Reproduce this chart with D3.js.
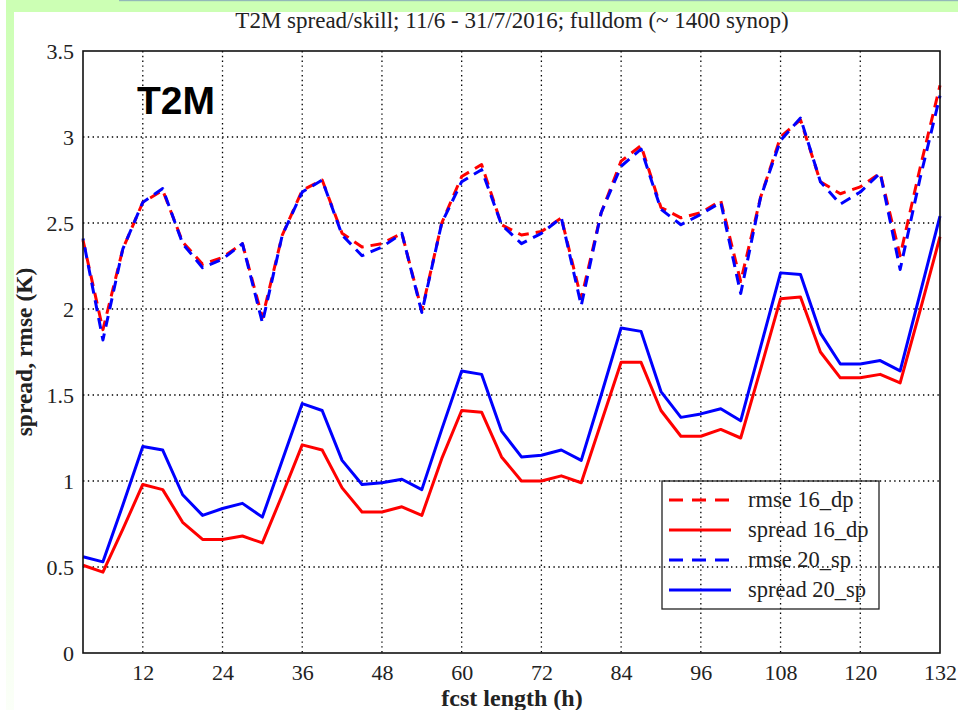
<!DOCTYPE html>
<html>
<head>
<meta charset="utf-8">
<script src="https://cdn.jsdelivr.net/npm/d3@7"></script>
<style>
  html, body { margin: 0; padding: 0; background: #ffffff; }
  svg { display: block; }
</style>
</head>
<body>
<svg id="chart" width="958" height="710"></svg>
<script>
// ---------------- data ----------------
const hours = [3,6,9,12,15,18,21,24,27,30,33,36,39,42,45,48,51,54,57,60,63,66,69,72,75,78,81,84,87,90,93,96,99,102,105,108,111,114,117,120,123,126,129,132];
const rmse16 = [2.40,1.88,2.35,2.62,2.69,2.39,2.26,2.30,2.38,1.95,2.43,2.69,2.75,2.44,2.36,2.38,2.44,1.99,2.50,2.77,2.84,2.49,2.43,2.45,2.53,2.06,2.56,2.86,2.95,2.59,2.53,2.56,2.63,2.16,2.65,3.00,3.10,2.74,2.67,2.71,2.79,2.31,2.82,3.30];
const spread16 = [0.51,0.47,0.72,0.98,0.95,0.76,0.66,0.66,0.68,0.64,0.92,1.21,1.18,0.96,0.82,0.82,0.85,0.80,1.13,1.41,1.40,1.14,1.00,1.00,1.03,0.99,1.34,1.69,1.69,1.41,1.26,1.26,1.30,1.25,1.65,2.06,2.07,1.75,1.60,1.60,1.62,1.57,1.99,2.42];
const rmse20 = [2.41,1.82,2.35,2.62,2.70,2.38,2.24,2.29,2.38,1.92,2.43,2.68,2.75,2.43,2.31,2.36,2.44,1.98,2.50,2.74,2.81,2.49,2.38,2.44,2.53,2.02,2.56,2.83,2.93,2.58,2.49,2.55,2.62,2.09,2.65,2.98,3.11,2.74,2.61,2.68,2.79,2.23,2.76,3.24];
const spread20 = [0.56,0.53,0.86,1.20,1.18,0.92,0.80,0.84,0.87,0.79,1.12,1.45,1.41,1.12,0.98,0.99,1.01,0.95,1.30,1.64,1.62,1.29,1.14,1.15,1.18,1.12,1.50,1.89,1.87,1.52,1.37,1.39,1.42,1.35,1.78,2.21,2.20,1.86,1.68,1.68,1.70,1.64,2.09,2.54];

const xTicks = [12,24,36,48,60,72,84,96,108,120,132];
const yTicks = [0,0.5,1,1.5,2,2.5,3,3.5];
const yTickLabels = ["0","0.5","1","1.5","2","2.5","3","3.5"];

const seriesNames = ["rmse 16_dp","spread 16_dp","rmse 20_sp","spread 20_sp"];
const seriesValues = [rmse16, spread16, rmse20, spread20];
const seriesColors = ["#ff0000","#ff0000","#0000ff","#0000ff"];
const seriesDashed = [true,false,true,false];

const titleText = "T2M spread/skill; 11/6 - 31/7/2016; fulldom (~ 1400 synop)";
const xLabel = "fcst length (h)";
const yLabel = "spread, rmse (K)";
const panelLabel = "T2M";

// ---------------- layout ----------------
const svg = d3.select("#chart");
const W = 958, H = 710;
const m = {left: 83, right: 940, top: 51, bottom: 653};
const serif = "'Liberation Serif', 'Times New Roman', serif";

// slide background (green frame)
const defs = svg.append("defs");
const grad = defs.append("linearGradient").attr("id","leftfade").attr("x1",0).attr("y1",0).attr("x2",0).attr("y2",1);
grad.append("stop").attr("offset","0%").attr("stop-color","#ccffb4");
grad.append("stop").attr("offset","100%").attr("stop-color","#fbfff8");
svg.append("rect").attr("x",0).attr("y",0).attr("width",W).attr("height",H).attr("fill","#ffffff");
svg.append("rect").attr("x",6).attr("y",0).attr("width",8).attr("height",H).attr("fill","url(#leftfade)");
svg.append("rect").attr("x",6).attr("y",0).attr("width",W-6).attr("height",12).attr("fill","#ccffb4");
svg.append("rect").attr("x",119).attr("y",0).attr("width",W-119).attr("height",1.2).attr("fill","#93b8b8");

const x = d3.scaleLinear().domain([3,132]).range([m.left, m.right]);
const y = d3.scaleLinear().domain([0,3.5]).range([m.bottom, m.top]);

// gridlines (dotted)
const grid = svg.append("g");
grid.selectAll("line.vg").data(xTicks.filter(t => t < 132)).join("line")
  .attr("x1", d => x(d)).attr("x2", d => x(d))
  .attr("y1", m.top).attr("y2", m.bottom)
  .attr("stroke","#000").attr("stroke-width",1.3).attr("stroke-dasharray","1.4,3.4");
grid.selectAll("line.hg").data(yTicks.filter(t => t > 0 && t < 3.5)).join("line")
  .attr("x1", m.left).attr("x2", m.right)
  .attr("y1", d => y(d)).attr("y2", d => y(d))
  .attr("stroke","#000").attr("stroke-width",1.3).attr("stroke-dasharray","1.4,3.4");

// axes (labels only, via d3 axis)
const xAxis = d3.axisBottom(x).tickValues(xTicks).tickSize(0).tickPadding(9);
const gx = svg.append("g").attr("transform",`translate(0,${m.bottom})`).call(xAxis);
gx.select(".domain").remove();
gx.selectAll("text").attr("font-family",serif).attr("font-size",22).attr("fill","#222").attr("dy","0.8em");

const yAxis = d3.axisLeft(y).tickValues(yTicks).tickSize(0).tickPadding(9)
  .tickFormat((d,i) => yTickLabels[i]);
const gy = svg.append("g").attr("transform",`translate(${m.left},0)`).call(yAxis);
gy.select(".domain").remove();
gy.selectAll("text").attr("font-family",serif).attr("font-size",22).attr("fill","#222");

// lines
const line = d3.line().x((d,i) => x(hours[i])).y(d => y(d));
const linesG = svg.append("g");
seriesValues.forEach((vals, k) => {
  linesG.append("path")
    .datum(vals)
    .attr("d", line)
    .attr("fill","none")
    .attr("stroke", seriesColors[k])
    .attr("stroke-width", 3)
    .attr("stroke-linejoin","round")
    .attr("stroke-dasharray", seriesDashed[k] ? "11,7" : null)
    .attr("stroke-dashoffset", seriesDashed[k] && k === 2 ? 9 : 0);
});

// frame
svg.append("rect").attr("x",m.left).attr("y",m.top)
  .attr("width",m.right-m.left).attr("height",m.bottom-m.top)
  .attr("fill","none").attr("stroke","#111").attr("stroke-width",1.6);

// panel label
svg.append("text").attr("x",137).attr("y",114)
  .attr("font-family","'Liberation Sans', Arial, sans-serif").attr("font-weight","bold")
  .attr("font-size",39).attr("fill","#000").text(panelLabel);

// title
svg.append("text").attr("x",512).attr("y",28).attr("text-anchor","middle")
  .attr("font-family",serif).attr("font-size",23).attr("fill","#222").text(titleText);

// axis titles
svg.append("text").attr("x",512).attr("y",706).attr("text-anchor","middle")
  .attr("font-family",serif).attr("font-weight","bold").attr("font-size",24).attr("fill","#222").text(xLabel);
svg.append("text").attr("transform","translate(32,352) rotate(-90)").attr("text-anchor","middle")
  .attr("font-family",serif).attr("font-weight","bold").attr("font-size",23.5).attr("fill","#222").text(yLabel);

// legend
const lg = svg.append("g");
lg.append("rect").attr("x",662).attr("y",481).attr("width",217).attr("height",128)
  .attr("fill","none").attr("stroke","#222").attr("stroke-width",1.3);
seriesNames.forEach((name,k) => {
  const ry = 500 + k*30;
  lg.append("line").attr("x1",669).attr("x2",731).attr("y1",ry).attr("y2",ry)
    .attr("stroke",seriesColors[k]).attr("stroke-width",3)
    .attr("stroke-dasharray", seriesDashed[k] ? "14,9" : null);
  lg.append("text").attr("x",748).attr("y",ry+7)
    .attr("font-family",serif).attr("font-size",22.5).attr("fill","#222").text(name);
});
</script>
</body>
</html>
